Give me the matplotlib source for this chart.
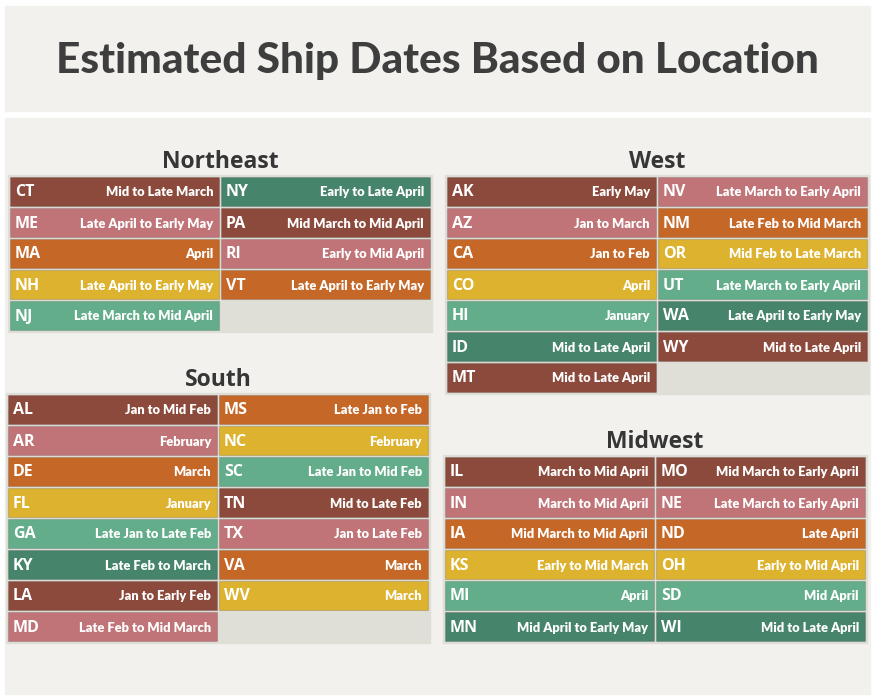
import matplotlib.pyplot as plt
from matplotlib.patches import Rectangle

# colours
BROWN = "#8c4a3c"
PINK = "#c07478"
ORANGE = "#c56727"
YELLOW = "#dcb22e"
LGREEN = "#63ad8b"
DGREEN = "#46846c"

# --- data: one block per region ---
ne_states = ["CT", "ME", "MA", "NH", "NJ", "NY", "PA", "RI", "VT"]
ne_dates = ["Mid to Late March", "Late April to Early May", "April",
            "Late April to Early May", "Late March to Mid April",
            "Early to Late April", "Mid March to Mid April",
            "Early to Mid April", "Late April to Early May"]
ne_colors = [BROWN, PINK, ORANGE, YELLOW, LGREEN, DGREEN, BROWN, PINK, ORANGE]

west_states = ["AK", "AZ", "CA", "CO", "HI", "ID", "MT",
               "NV", "NM", "OR", "UT", "WA", "WY"]
west_dates = ["Early May", "Jan to March", "Jan to Feb", "April", "January",
              "Mid to Late April", "Mid to Late April",
              "Late March to Early April", "Late Feb to Mid March",
              "Mid Feb to Late March", "Late March to Early April",
              "Late April to Early May", "Mid to Late April"]
west_colors = [BROWN, PINK, ORANGE, YELLOW, LGREEN, DGREEN, BROWN,
               PINK, ORANGE, YELLOW, LGREEN, DGREEN, BROWN]

south_states = ["AL", "AR", "DE", "FL", "GA", "KY", "LA", "MD",
                "MS", "NC", "SC", "TN", "TX", "VA", "WV"]
south_dates = ["Jan to Mid Feb", "February", "March", "January",
               "Late Jan to Late Feb", "Late Feb to March", "Jan to Early Feb",
               "Late Feb to Mid March", "Late Jan to Feb", "February",
               "Late Jan to Mid Feb", "Mid to Late Feb", "Jan to Late Feb",
               "March", "March"]
south_colors = [BROWN, PINK, ORANGE, YELLOW, LGREEN, DGREEN, BROWN, PINK,
                ORANGE, YELLOW, LGREEN, BROWN, PINK, ORANGE, YELLOW]

mw_states = ["IL", "IN", "IA", "KS", "MI", "MN",
             "MO", "NE", "ND", "OH", "SD", "WI"]
mw_dates = ["March to Mid April", "March to Mid April",
            "Mid March to Mid April", "Early to Mid March", "April",
            "Mid April to Early May", "Mid March to Early April",
            "Late March to Early April", "Late April", "Early to Mid April",
            "Mid April", "Mid to Late April"]
mw_colors = [BROWN, PINK, ORANGE, YELLOW, LGREEN, DGREEN,
             BROWN, PINK, ORANGE, YELLOW, LGREEN, DGREEN]

# region name, rows in first column, grid origin (px)
regions = [
    ("Northeast", ne_states, ne_dates, ne_colors, 5, 8, 175),
    ("West", west_states, west_dates, west_colors, 7, 445, 175),
    ("South", south_states, south_dates, south_colors, 8, 6, 393),
    ("Midwest", mw_states, mw_dates, mw_colors, 6, 443, 455),
]

CELL_W, CELL_H, PITCH, PAD, GAP = 209, 29, 31, 2, 2

fig = plt.figure(figsize=(8.75, 7), dpi=100)
ax = fig.add_axes([0, 0, 1, 1])
ax.set_xlim(0, 875)
ax.set_ylim(700, 0)
ax.axis("off")

# background panels
ax.add_patch(Rectangle((5, 6), 865, 105, color="#f2f1ee", zorder=0))
ax.add_patch(Rectangle((5, 118), 865, 576, color="#f2f1ee", zorder=0))

ax.text(437, 73, "Estimated Ship Dates Based on Location", ha="center",
        va="baseline", fontsize=30.5, fontweight="black", color="#3e3e3e",
        family="Lato")

for name, states, dates, colors, nrows, gx, gy in regions:
    ncols = 2
    grid_w = PAD * 2 + CELL_W * ncols + GAP
    grid_h = PAD + nrows * PITCH
    ax.add_patch(Rectangle((gx, gy), grid_w, grid_h, color="#dfded7", zorder=1))
    ax.text(gx + grid_w / 2, gy - 7, name, ha="center", va="baseline",
            fontsize=16.5, fontweight="bold", color="#363636",
            family="Open Sans")
    col = [i // nrows for i in range(len(states))]
    row = [i % nrows for i in range(len(states))]
    lefts = [gx + PAD + c * (CELL_W + GAP) for c in col]
    ys = [gy + PAD + r * PITCH + CELL_H / 2 for r in row]
    ax.barh(ys, CELL_W, left=lefts, height=CELL_H, color=colors,
            edgecolor="#00000022", linewidth=0.8, zorder=2)
    for st, dt, x, y in zip(states, dates, lefts, ys):
        ax.text(x + 5, y + 1, st, ha="left", va="center", fontsize=11.5,
                fontweight="bold", color="white", family="Open Sans", zorder=3)
        ax.text(x + CELL_W - 6, y + 1, dt, ha="right", va="center",
                fontsize=9.3, fontweight="heavy", color="white", family="Lato",
                zorder=3)

fig.savefig("out.png", dpi=100)
